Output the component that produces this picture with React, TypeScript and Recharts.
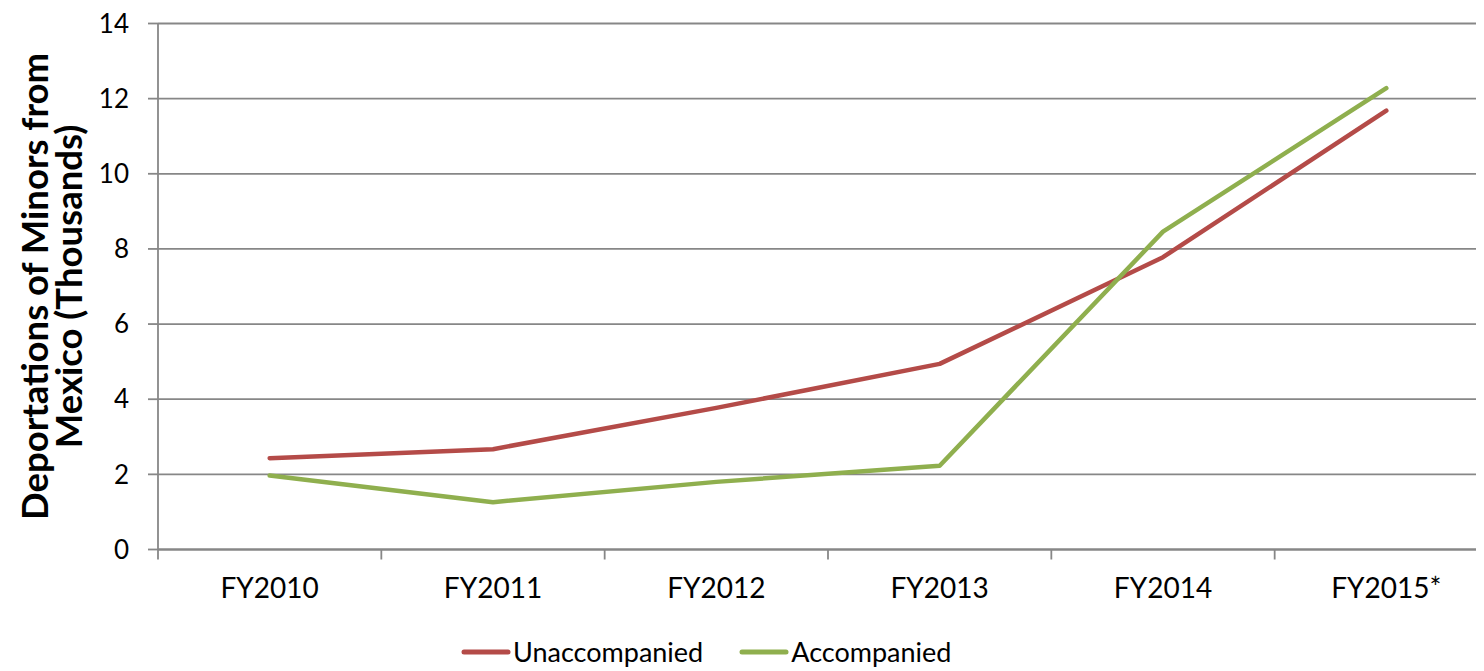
import React from 'react';
import { LineChart, Line, XAxis, YAxis, CartesianGrid, Legend, Label } from 'recharts';

const categories = ['FY2010', 'FY2011', 'FY2012', 'FY2013', 'FY2014', 'FY2015*'];
const unaccompanied = [2.43, 2.67, 3.77, 4.94, 7.78, 11.68];
const accompanied = [1.97, 1.26, 1.8, 2.23, 8.46, 12.28];
const yTicks = [0, 2, 4, 6, 8, 10, 12, 14];
const seriesNames = ['Unaccompanied', 'Accompanied'];

const data = categories.map((c, i) => ({
  pos: i + 0.5,
  name: c,
  unaccompanied: unaccompanied[i],
  accompanied: accompanied[i],
}));

// x ticks: integer positions are band boundaries (tick marks), half positions are category labels
const xTicks: number[] = [];
for (let i = 0; i <= categories.length; i++) {
  xTicks.push(i);
  if (i < categories.length) xTicks.push(i + 0.5);
}

const FONT = 'Lato, "Open Sans", sans-serif';
const AXIS_COLOR = '#878787';
const RED = '#B44B48';
const GREEN = '#8FAF4E';
const TICK_SIZE = 10;
const TICK_MARGIN = 18.5;

const XTick = (props: any) => {
  const { x, y, payload } = props;
  const v = payload.value;
  if (Number.isInteger(v)) {
    const y0 = y - TICK_SIZE - TICK_MARGIN;
    return <line x1={x} x2={x} y1={y0} y2={y0 + TICK_SIZE} stroke={AXIS_COLOR} strokeWidth={1.8} />;
  }
  const label = categories[Math.floor(v)];
  return (
    <text x={x} y={y} dy="0.71em" textAnchor="middle" fill="#000" fontSize={28} fontFamily={FONT}>
      {label}
    </text>
  );
};

const YLabel = (props: any) => {
  const vb = props.viewBox || { x: 70, y: 15.5, width: 80, height: 526 };
  const cy = vb.y + vb.height / 2;
  const x1 = vb.x - 30;
  const x2 = vb.x + 4;
  const common = { textAnchor: 'middle' as const, fontSize: 36.5, fontWeight: 'bold' as const, fontFamily: FONT, fill: '#000' };
  return (
    <g>
      <text x={x1} y={cy} transform={`rotate(-90, ${x1}, ${cy})`} {...common}>
        Deportations of Minors from
      </text>
      <text x={x2} y={cy} transform={`rotate(-90, ${x2}, ${cy})`} {...common}>
        Mexico (Thousands)
      </text>
    </g>
  );
};

const LegendContent = (props: any) => {
  const payload = [...(props.payload || [])].sort(
    (a: any, b: any) => seriesNames.indexOf(a.value) - seriesNames.indexOf(b.value)
  );
  return (
    <div style={{ display: 'flex', alignItems: 'center', fontSize: 27, fontFamily: FONT, color: '#000', lineHeight: '36px', whiteSpace: 'nowrap' }}>
      {payload.map((p: any, i: number) => (
        <div key={i} style={{ display: 'flex', alignItems: 'center', marginLeft: i ? 36 : 0 }}>
          <svg width={50} height={10} style={{ display: 'block' }}>
            <line x1={3} x2={47} y1={5} y2={5} stroke={p.color} strokeWidth={5} strokeLinecap="round" />
          </svg>
          <span style={{ marginLeft: 2 }}>{p.value}</span>
        </div>
      ))}
    </div>
  );
};

export default function App() {
  return (
    <div style={{ width: 1476, height: 663, overflow: 'hidden', fontFamily: FONT }}>
      <LineChart width={1500} height={663} data={data} margin={{ top: 15.5, right: 10, left: 70, bottom: 81.5 }}>
        <CartesianGrid vertical={false} stroke={AXIS_COLOR} strokeWidth={1.8} />
        <XAxis
          dataKey="pos"
          type="number"
          domain={[0, categories.length]}
          ticks={xTicks}
          interval={0}
          height={40}
          tickLine={false}
          tickSize={TICK_SIZE}
          tickMargin={TICK_MARGIN}
          tick={<XTick />}
          axisLine={{ stroke: AXIS_COLOR, strokeWidth: 1.8 }}
        />
        <YAxis
          domain={[0, 14]}
          ticks={yTicks}
          interval={0}
          width={80}
          tickSize={TICK_SIZE}
          tickMargin={19}
          tick={{ fill: '#000', fontSize: 26, fontFamily: FONT }}
          tickLine={{ stroke: AXIS_COLOR, strokeWidth: 1.8 }}
          axisLine={{ stroke: AXIS_COLOR, strokeWidth: 1.8 }}
        >
          <Label content={<YLabel />} />
        </YAxis>
        <Legend
          layout="horizontal"
          verticalAlign="middle"
          align="center"
          content={<LegendContent />}
          wrapperStyle={{ left: 453, top: 626, width: 'auto' }}
        />
        <Line
          type="linear"
          dataKey="unaccompanied"
          name={seriesNames[0]}
          stroke={RED}
          strokeWidth={4.5}
          strokeLinecap="round"
          strokeLinejoin="round"
          dot={false}
          activeDot={false}
          isAnimationActive={false}
        />
        <Line
          type="linear"
          dataKey="accompanied"
          name={seriesNames[1]}
          stroke={GREEN}
          strokeWidth={4.5}
          strokeLinecap="round"
          strokeLinejoin="round"
          dot={false}
          activeDot={false}
          isAnimationActive={false}
        />
      </LineChart>
    </div>
  );
}
